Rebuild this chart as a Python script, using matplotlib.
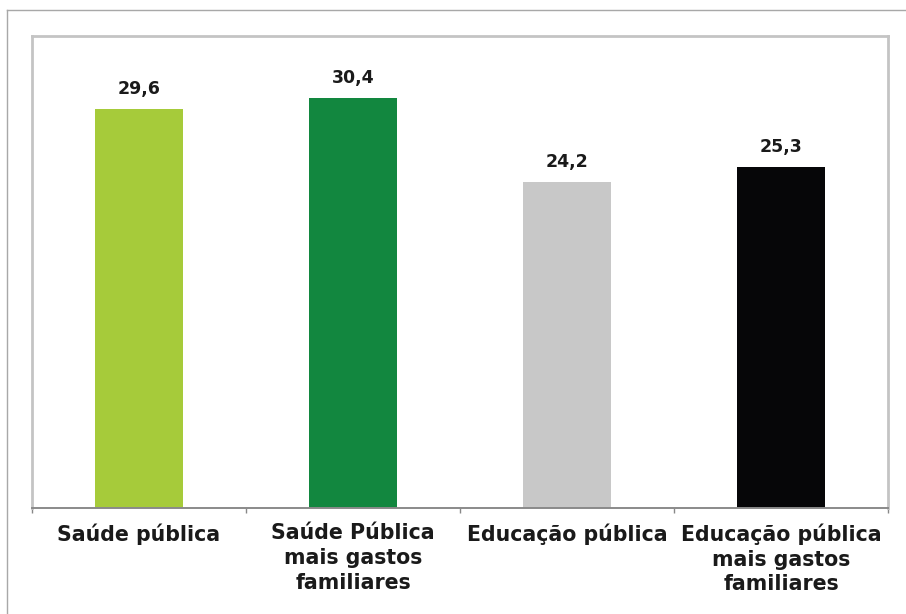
import matplotlib.pyplot as plt
from matplotlib.lines import Line2D

# Data
categories = ['Saúde pública',
              'Saúde Pública\nmais gastos\nfamiliares',
              'Educação pública',
              'Educação pública\nmais gastos\nfamiliares']
values = [29.6, 30.4, 24.2, 25.3]
value_labels = ['29,6', '30,4', '24,2', '25,3']
bar_colors = ['#a6cb3a', '#12873f', '#c8c8c8', '#060608']

plt.rcParams['font.family'] = ['DejaVu Sans']

fig = plt.figure(figsize=(9.06, 6.14), dpi=100)
ax = fig.add_axes([32 / 906, 1 - 508 / 614, (888 - 32) / 906, (508 - 36) / 614])

x = list(range(len(categories)))
bars = ax.bar(x, values, width=0.41, color=bar_colors)

# value labels above bars
for xi, v, lab in zip(x, values, value_labels):
    ax.annotate(lab, (xi, v), xytext=(0, 11), textcoords='offset pixels',
                ha='center', va='bottom', fontsize=12.5, fontweight='bold',
                color='#1a1a1a')

ax.set_xlim(-0.5, len(categories) - 0.5)
ax.set_ylim(0, 35)
ax.set_yticks([])

ax.set_xticks(x)
ax.set_xticklabels(categories, fontsize=14.8, fontweight='bold',
                   color='#1a1a1a', linespacing=1.3)
ax.tick_params(axis='x', which='major', length=0, pad=11)
ax.set_xticks([i - 0.5 for i in range(len(categories) + 1)], minor=True)
ax.tick_params(axis='x', which='minor', length=3.6, width=1.0,
               color='#888888', direction='out')

for side in ['top', 'left', 'right']:
    ax.spines[side].set_color('#c4c4c4')
    ax.spines[side].set_linewidth(2.0)
ax.spines['bottom'].set_color('#8a8a8a')
ax.spines['bottom'].set_linewidth(1.4)

# outer frame of the picture (top and left edges)
fig.add_artist(Line2D([7 / 906, 1.0], [1 - 10 / 614, 1 - 10 / 614],
                      transform=fig.transFigure, color='#a8a8a8', lw=1.0))
fig.add_artist(Line2D([7 / 906, 7 / 906], [0.0, 1 - 10 / 614],
                      transform=fig.transFigure, color='#a8a8a8', lw=1.0))

plt.savefig('out.png', dpi=100)
